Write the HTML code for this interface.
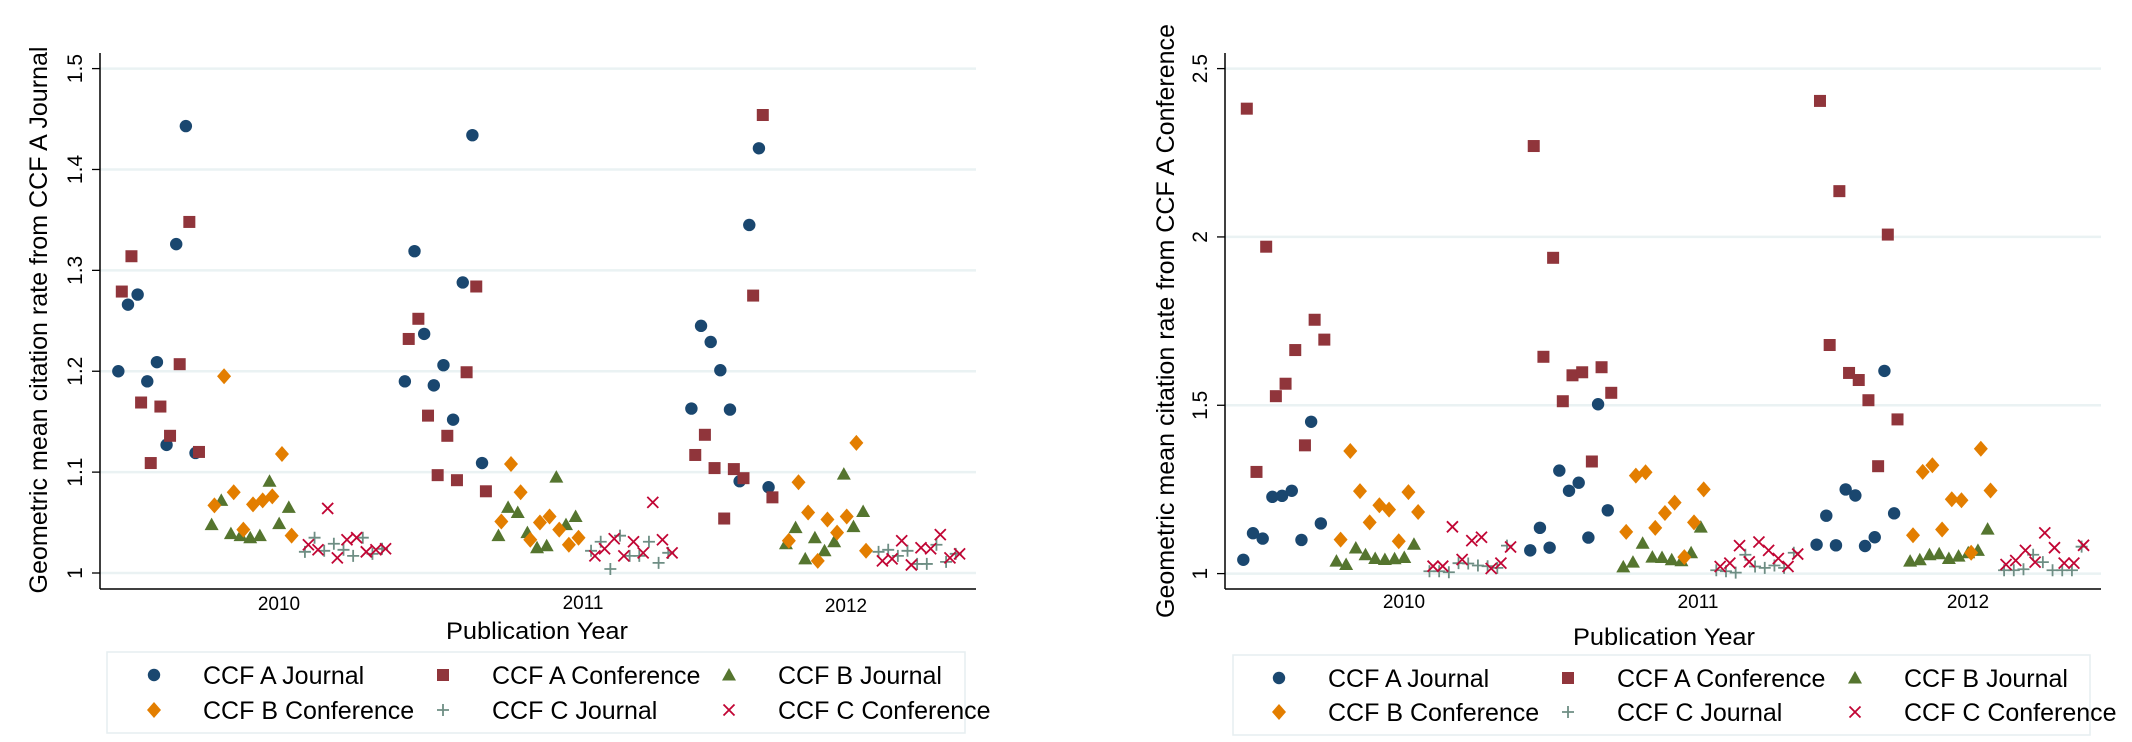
<!DOCTYPE html>
<html><head><meta charset="utf-8"><style>
html,body{margin:0;padding:0;background:#fff;}
svg{display:block;font-family:"Liberation Sans",Arial,sans-serif;}
</style></head><body>
<svg id="fig" width="2132" height="742" viewBox="0 0 2132 742" xmlns="http://www.w3.org/2000/svg"></svg>
<script>
// ---- chart data (x = jitter slot position, y = citation rate) ----
const seriesNames = ["CCF A Journal","CCF A Conference","CCF B Journal","CCF B Conference","CCF C Journal","CCF C Conference"];
const yTicksLeft = [1,1.1,1.2,1.3,1.4,1.5];
const yTickLabelsLeft = ["1","1.1","1.2","1.3","1.4","1.5"];
const yTicksRight = [1,1.5,2,2.5];
const yTickLabelsRight = ["1","1.5","2","2.5"];
const yearLabels = ["2010","2011","2012"];

// left chart: group start slots per series (2010, 2011, 2012)
const leftStarts = [[1.9,31.6,61.3],[2.26,32.0,61.7],[11.57,41.3,71.1],[11.86,41.6,71.4],[21.24,50.9,80.7],[21.6,51.3,81.1]];
const leftAJ = [[1.200,1.266,1.276,1.190,1.209,1.127,1.326,1.443,1.119],[1.190,1.319,1.237,1.186,1.206,1.152,1.288,1.434,1.109],[1.163,1.245,1.229,1.201,1.162,1.091,1.345,1.421,1.085]];
const leftAC = [[1.279,1.314,1.169,1.109,1.165,1.136,1.207,1.348,1.120],[1.232,1.252,1.156,1.097,1.136,1.092,1.199,1.284,1.081],[1.117,1.137,1.104,1.054,1.103,1.094,1.275,1.454,1.075]];
const leftBJ = [[1.048,1.072,1.039,1.037,1.035,1.037,1.091,1.049,1.065],[1.037,1.065,1.060,1.040,1.025,1.027,1.095,1.048,1.056],[1.029,1.045,1.014,1.035,1.022,1.031,1.098,1.046,1.061]];
const leftBC = [[1.067,1.195,1.080,1.043,1.068,1.072,1.076,1.118,1.037],[1.051,1.108,1.080,1.033,1.050,1.056,1.043,1.028,1.035],[1.032,1.090,1.060,1.012,1.053,1.040,1.056,1.129,1.022]];
const leftCJ = [[1.021,1.035,1.022,1.029,1.023,1.017,1.035,1.019,1.024],[1.022,1.031,1.004,1.037,1.017,1.017,1.031,1.010,1.020],[1.021,1.023,1.017,1.022,1.009,1.009,1.028,1.011,1.019]];
const leftCC = [[1.028,1.023,1.064,1.015,1.033,1.035,1.021,1.023,1.024],[1.017,1.024,1.034,1.017,1.031,1.020,1.070,1.033,1.020],[1.012,1.014,1.032,1.008,1.025,1.024,1.038,1.015,1.019]];

// right chart
const rightStarts = [[1.89,31.5,61.05],[2.25,31.86,61.4],[11.5,41.1,70.7],[11.93,41.4,71.0],[21.1,50.7,80.4],[21.47,51.1,80.6]];
const rightAJ = [[1.041,1.120,1.104,1.228,1.231,1.246,1.100,1.451,1.149],[1.069,1.136,1.077,1.306,1.246,1.270,1.107,1.503,1.188],[1.086,1.172,1.084,1.250,1.232,1.082,1.108,1.602,1.179]];
const rightAC = [[2.381,1.302,1.971,1.527,1.564,1.664,1.381,1.754,1.695],[2.270,1.644,1.938,1.512,1.589,1.598,1.333,1.613,1.537],[2.404,1.679,2.136,1.596,1.575,1.515,1.319,2.007,1.458]];
const rightBJ = [[1.037,1.027,1.076,1.056,1.045,1.042,1.044,1.048,1.087],[1.020,1.034,1.090,1.049,1.048,1.041,1.038,1.062,1.138],[1.037,1.041,1.056,1.059,1.045,1.052,1.062,1.069,1.132]];
const rightBC = [[1.101,1.364,1.245,1.152,1.203,1.190,1.096,1.242,1.183],[1.124,1.291,1.301,1.136,1.180,1.211,1.049,1.152,1.250],[1.114,1.302,1.322,1.131,1.221,1.218,1.062,1.371,1.247]];
const rightCJ = [[1.007,1.007,1.004,1.031,1.030,1.024,1.022,1.017,1.083],[1.010,1.007,1.003,1.056,1.021,1.017,1.024,1.017,1.062],[1.010,1.010,1.013,1.056,1.034,1.010,1.010,1.010,1.080]];
const rightCC = [[1.022,1.022,1.139,1.042,1.098,1.108,1.015,1.031,1.079],[1.021,1.031,1.083,1.035,1.094,1.069,1.045,1.021,1.058],[1.027,1.039,1.069,1.034,1.121,1.077,1.031,1.031,1.084]];

const colors = ["#1a476f","#90353b","#55752f","#e37e00","#6e8e84","#c10534"];
const shapes = ["circle","square","triangle","diamond","plus","cross"];
const NS = "http://www.w3.org/2000/svg";
const svg = document.getElementById("fig");

function mk(tag, attrs, parent){
  const e = document.createElementNS(NS, tag);
  for (const k in attrs) e.setAttribute(k, attrs[k]);
  (parent||svg).appendChild(e);
  return e;
}

function marker(g, shape, cx, cy, color, scale){
  const s = scale||1;
  let e;
  if (shape==="circle") e = mk("circle",{cx:cx,cy:cy,r:6.2*s,fill:color},g);
  else if (shape==="square") e = mk("rect",{x:cx-6*s,y:cy-6*s,width:12*s,height:12*s,fill:color},g);
  else if (shape==="triangle") e = mk("polygon",{points:`${cx},${cy-7*s} ${cx+7*s},${cy+5.5*s} ${cx-7*s},${cy+5.5*s}`,fill:color},g);
  else if (shape==="diamond") e = mk("polygon",{points:`${cx},${cy-8*s} ${cx+7*s},${cy} ${cx},${cy+8*s} ${cx-7*s},${cy}`,fill:color},g);
  else if (shape==="plus") e = mk("path",{d:`M${cx-6*s},${cy}H${cx+6*s}M${cx},${cy-6*s}V${cy+6*s}`,stroke:color,"stroke-width":1.8,fill:"none"},g);
  else e = mk("path",{d:`M${cx-5.5*s},${cy-5.5*s}L${cx+5.5*s},${cy+5.5*s}M${cx+5.5*s},${cy-5.5*s}L${cx-5.5*s},${cy+5.5*s}`,stroke:color,"stroke-width":1.8,fill:"none"},g);
  return e;
}

function drawChart(cfg){
  const g = mk("g",{});
  
  
  const X = v => cfg.x0 + (v/cfg.xMax)*(cfg.x1-cfg.x0);
  const Y = v => cfg.yBase - (v-cfg.yMin)/(cfg.yTop-cfg.yMin)*(cfg.yBase-cfg.yTopPx);
  cfg.ticks.forEach((t,i)=>{
    const y = Y(t);
    const gl = mk("line",{x1:cfg.x0,x2:cfg.x1,y1:y,y2:y,stroke:"#eaf2f3","stroke-width":2.5},g);
    
    
    const tk = mk("line",{x1:cfg.x0-8,x2:cfg.x0,y1:y,y2:y,stroke:"#000","stroke-width":1.3},g);
    
    
    const tl = mk("text",{x:0,y:0,transform:`translate(${cfg.x0-18},${y}) rotate(-90)`,"text-anchor":"middle","font-size":21,fill:"#000"},g);
    tl.textContent = cfg.tickLabels[i];
    
    
  });
  const ya = mk("line",{x1:cfg.x0,x2:cfg.x0,y1:cfg.axisTop,y2:cfg.axisBottom,stroke:"#000","stroke-width":1.5},g);
  
  
  const xa = mk("line",{x1:cfg.x0,x2:cfg.x1,y1:cfg.axisBottom,y2:cfg.axisBottom,stroke:"#000","stroke-width":1.5},g);
  
  
  yearLabels.forEach((lab,i)=>{
    const t = mk("text",{x:cfg.yearX[i],y:cfg.yearY[i],"text-anchor":"middle","font-size":19,fill:"#000"},g);
    t.textContent = lab;
    
    
  });
  const xt = mk("text",{x:cfg.xTitleX,y:cfg.xTitleY,"text-anchor":"middle","font-size":24,fill:"#000",textLength:182,lengthAdjust:"spacingAndGlyphs"},g);
  xt.textContent = "Publication Year";
  
  
  const yt = mk("text",{x:0,y:0,transform:`translate(${cfg.yTitleX},${cfg.yTitleC}) rotate(-90)`,"text-anchor":"middle","font-size":25,fill:"#000",textLength:cfg.yTitleLen,lengthAdjust:"spacingAndGlyphs"},g);
  yt.textContent = cfg.yTitle;
  
  
  cfg.series.forEach((groups,si)=>{
    groups.forEach((vals,gi)=>{
      vals.forEach((v,k)=>{
        const m = marker(g, shapes[si], X(cfg.starts[si][gi]+k), Y(v), colors[si]);
        
        
      });
    });
  });
  const lb = mk("rect",{x:cfg.legX,y:cfg.legY,width:cfg.legW,height:cfg.legH,fill:"#fff",stroke:"#e6eef0","stroke-width":1.5},g);
  
  
  seriesNames.forEach((nm,i)=>{
    const col = i%3, row = Math.floor(i/3);
    const my = cfg.legRows[row];
    const m = marker(g, shapes[i], cfg.legMarkX[col], my, colors[i]);
    
    
    const t = mk("text",{x:cfg.legTextX[col],y:my+9,"font-size":25,fill:"#000"},g);
    t.textContent = nm;
    
    
  });
}

drawChart({name:"left-chart",x0:100,x1:976,xMax:90.8,yMin:1,yTop:1.5,yBase:573,yTopPx:68.6,
  axisTop:53,axisBottom:589,ticks:yTicksLeft,tickLabels:yTickLabelsLeft,
  yearX:[279,583,846],yearY:[610,609,612],xTitleX:537,xTitleY:639,
  yTitleX:47,yTitleC:320,yTitleLen:547,yTitle:"Geometric mean citation rate from CCF A Journal",
  series:[leftAJ,leftAC,leftBJ,leftBC,leftCJ,leftCC],starts:leftStarts,
  legX:107,legY:652,legW:858,legH:81,legRows:[675,710],legMarkX:[154,443,729],legTextX:[203,492,778]});

drawChart({name:"right-chart",x0:1225,x1:2101,xMax:90.4,yMin:1,yTop:2.5,yBase:573.6,yTopPx:68.6,
  axisTop:53,axisBottom:589,ticks:yTicksRight,tickLabels:yTickLabelsRight,
  yearX:[1404,1698,1968],yearY:[608,608,608],xTitleX:1664,xTitleY:645,
  yTitleX:1174,yTitleC:321,yTitleLen:594,yTitle:"Geometric mean citation rate from CCF A Conference",
  series:[rightAJ,rightAC,rightBJ,rightBC,rightCJ,rightCC],starts:rightStarts,
  legX:1233,legY:655,legW:857,legH:80,legRows:[678,712],legMarkX:[1279,1568,1855],legTextX:[1328,1617,1904]});
</script>
</body></html>
